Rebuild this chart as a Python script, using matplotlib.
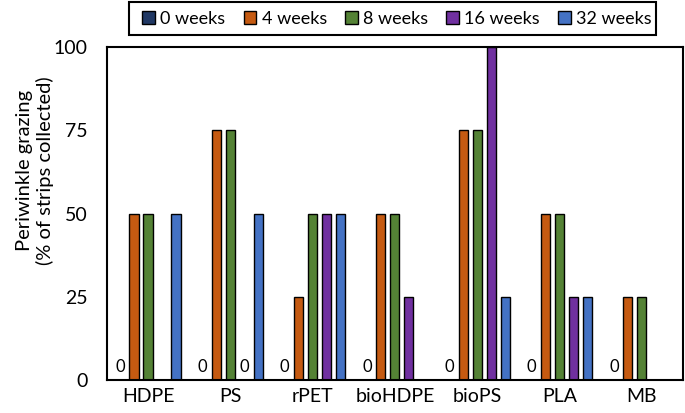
import numpy as np
import matplotlib
matplotlib.use("Agg")
import matplotlib.pyplot as plt
from matplotlib.patches import Rectangle

plt.rcParams["font.family"] = ["Lato", "DejaVu Sans"]

materials = ["HDPE", "PS", "rPET", "bioHDPE", "bioPS", "PLA", "MB"]
series = ["0 weeks", "4 weeks", "8 weeks", "16 weeks", "32 weeks"]
nan = np.nan
w0 = [0, 0, 0, 0, 0, 0, 0]
w4 = [50, 75, 25, 50, 75, 50, 25]
w8 = [50, 75, 50, 50, 75, 50, 25]
w16 = [nan, 0, 50, 25, 100, 25, nan]
w32 = [50, 50, 50, nan, 25, 25, nan]
values = [w0, w4, w8, w16, w32]
colors = ["#203864", "#c55a11", "#548235", "#7030a0", "#4472c4"]

fig = plt.figure(figsize=(6.85, 4.13), dpi=100)
ax = fig.add_axes([0.156, 0.080, 0.841, 0.806])

x = np.arange(len(materials))
step = 0.17
width = 0.11
for i, (name, vals, c) in enumerate(zip(series, values, colors)):
    xs = x + (i - 2) * step
    ax.bar(xs, vals, width, color=c, edgecolor="black", linewidth=1.0,
           label=name)
    for xi, v in zip(xs, vals):
        if v == 0:
            ax.text(xi, 1.5, "0", ha="center", va="bottom", fontsize=12)

ax.set_xlim(-0.5, len(materials) - 0.5)
ax.set_ylim(0, 100)
ax.set_yticks([0, 25, 50, 75, 100])
ax.set_xticks(x)
ax.set_xticklabels(materials, fontsize=14)
ax.tick_params(axis="y", labelsize=14, length=0, pad=14)
ax.tick_params(axis="x", length=0, pad=6)
for s in ax.spines.values():
    s.set_linewidth(1.5)
ax.set_ylabel("Periwinkle grazing\n(% of strips collected)", fontsize=14.5,
              linespacing=1.2)
ax.yaxis.set_label_coords(-0.092, 0.63)

# legend frame drawn separately (reference box is wider than its entries)
fig.patches.append(Rectangle((129 / 685, 1 - 35 / 413), 527 / 685, 33 / 413,
                             transform=fig.transFigure, fill=False,
                             edgecolor="black", linewidth=1.5))
leg = fig.legend(*ax.get_legend_handles_labels(), loc="center",
                 bbox_to_anchor=(397 / 685, 1 - 18.5 / 413), ncol=5,
                 fontsize=13, frameon=False, handlelength=0.7,
                 handleheight=0.7, handletextpad=0.3, columnspacing=1.0)

fig.savefig("out.png", dpi=100)
